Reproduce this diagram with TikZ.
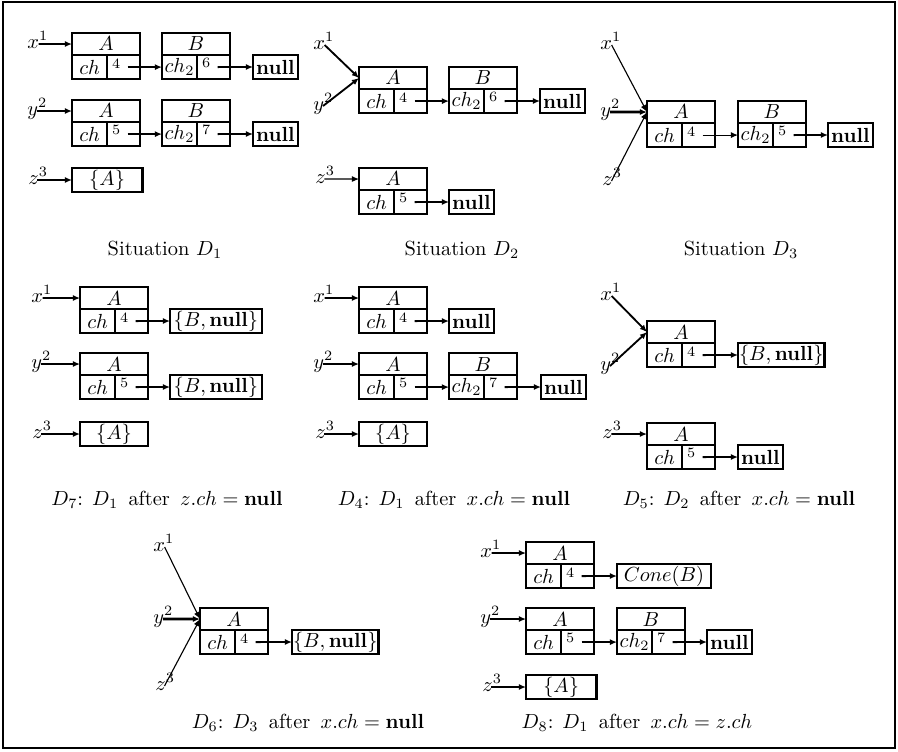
\documentclass[tikz,border=0pt]{standalone}
\usetikzlibrary{arrows.meta}
\newcommand\rec[5]{%
  \node[topcell, anchor=north west] (#1t) at (#2) {$#3$};
  \node[lcell] (#1l) at (#1t.south west) {$#4$};
  \node[rcell] (#1v) at (#1l.north east) {};
  \node[num] (#1n) at ([shift={(4.4pt,-4pt)}]#1v.north west) {#5};
}
\newcommand\gp{\hspace{1.7pt} }
\begin{document}
\begin{tikzpicture}[x=0.49pt,y=-0.49pt,
  box/.style={draw, line width=1.3pt, inner sep=0pt, outer sep=0pt},
  topcell/.style={box, minimum width=33.3pt, minimum height=10.8pt},
  lcell/.style={box, minimum width=17.2pt, minimum height=11.8pt, anchor=north west},
  rcell/.style={box, minimum width=16.1pt, minimum height=11.8pt, anchor=north west},
  nullb/.style={box, minimum width=22pt, minimum height=11.8pt, anchor=west},
  setb/.style={box, minimum height=11.8pt, anchor=west, inner sep=0.5pt},
  num/.style={font=\scriptsize, inner sep=0pt},
  ptr/.style={line width=0.9pt, -{Latex[length=3.5pt,width=3pt]}},
  thinptr/.style={line width=0.55pt, -{Latex[length=3.5pt,width=3pt]}},
  lbl/.style={inner sep=0pt, anchor=base west, yshift=-2.15pt},
  captext/.style={inner sep=0pt},
]
\useasboundingbox (0,0) rectangle (898,751);
\draw[line width=1.1pt] (3,2) rectangle (895,748);

% ---------- D1 ----------
\rec{D1x}{72,33}{A}{ch}{4}
\rec{D1xB}{162,33}{B}{ch_2}{6}
\node[nullb] (D1xN) at (253,67) {$\mathbf{null}$};
\rec{D1y}{72,100}{A}{ch}{5}
\rec{D1yB}{162,100}{B}{ch_2}{7}
\node[nullb] (D1yN) at (253,134) {$\mathbf{null}$};
\node[setb, minimum width=34.4pt] (D1zS) at (72,180) {$\{A\}$};
\node[lbl] (D1lx) at (27,44) {$x^1$};
\node[lbl] (D1ly) at (27,111) {$y^2$};
\node[lbl] (D1lz) at (28,180) {$z^3$};
\draw[ptr] ([shift={(5.7pt,2.15pt)}]D1lx.base west) -- (D1xt.west);
\draw[ptr] ([shift={(4.9pt,2.15pt)}]D1ly.base west) -- (D1yt.west);
\draw[ptr] ([shift={(4.65pt,2.15pt)}]D1lz.base west) -- (D1zS.west);
\draw[ptr] ([xshift=2pt]D1xv.center) -- (D1xBl.west);
\draw[ptr] ([xshift=2pt]D1xBv.center) -- (D1xN.west);
\draw[ptr] ([xshift=2pt]D1yv.center) -- (D1yBl.west);
\draw[ptr] ([xshift=2pt]D1yBv.center) -- (D1yN.west);
\node[captext] (C1) at (165,250) {Situation $D_1$};

% ---------- D2 ----------
\rec{D2}{359,67}{A}{ch}{4}
\rec{D2B}{449,67}{B}{ch_2}{6}
\node[nullb] (D2N) at (540,101) {$\mathbf{null}$};
\rec{D2z}{359,168}{A}{ch}{5}
\node[nullb] (D2zN) at (449,202) {$\mathbf{null}$};
\node[lbl] (D2lx) at (313,45) {$x^1$};
\node[lbl] (D2ly) at (313,106) {$y^2$};
\node[lbl] (D2lz) at (315,179) {$z^3$};
\draw[ptr] ([shift={(5.7pt,2.15pt)}]D2lx.base west) -- (D2t.west);
\draw[ptr] ([shift={(4.9pt,2.15pt)}]D2ly.base west) -- (D2t.west);
\draw[thinptr] ([shift={(4.65pt,2.15pt)}]D2lz.base west) -- (D2zt.west);
\draw[ptr] ([xshift=2pt]D2v.center) -- (D2Bl.west);
\draw[ptr] ([xshift=2pt]D2Bv.center) -- (D2N.west);
\draw[ptr] ([xshift=2pt]D2zv.center) -- (D2zN.west);
\node[captext] (C2) at (462,250) {Situation $D_2$};

% ---------- D3 ----------
\rec{D3}{647,101}{A}{ch}{4}
\rec{D3B}{738,101}{B}{ch_2}{5}
\node[nullb] (D3N) at (828,135) {$\mathbf{null}$};
\node[lbl] (D3lx) at (600,45) {$x^1$};
\node[lbl] (D3ly) at (600,112) {$y^2$};
\node[lbl] (D3lz) at (602,181) {$z^3$};
\draw[thinptr] ([shift={(5.7pt,2.15pt)}]D3lx.base west) -- (D3t.west);
\draw[ptr, line width=1.3pt] ([shift={(4.9pt,2.15pt)}]D3ly.base west) -- (D3t.west);
\draw[thinptr] ([shift={(4.65pt,2.15pt)}]D3lz.base west) -- (D3t.west);
\draw[thinptr] ([xshift=2pt]D3v.center) -- (D3Bl.west);
\draw[ptr] ([xshift=2pt]D3Bv.center) -- (D3N.west);
\node[captext] (C3) at (741,250) {Situation $D_3$};

% ---------- D7 ----------
\rec{D7x}{80,287}{A}{ch}{4}
\node[setb, minimum width=45pt] (D7xS) at (170,321) {$\{B,\mathbf{null}\}$};
\rec{D7y}{80,353}{A}{ch}{5}
\node[setb, minimum width=45pt] (D7yS) at (170,387) {$\{B,\mathbf{null}\}$};
\node[setb, minimum width=33.3pt] (D7zS) at (80,434) {$\{A\}$};
\node[lbl] (D7lx) at (31,298) {$x^1$};
\node[lbl] (D7ly) at (31,364) {$y^2$};
\node[lbl] (D7lz) at (32,434) {$z^3$};
\draw[ptr] ([shift={(5.7pt,2.15pt)}]D7lx.base west) -- (D7xt.west);
\draw[ptr] ([shift={(4.9pt,2.15pt)}]D7ly.base west) -- (D7yt.west);
\draw[ptr] ([shift={(4.65pt,2.15pt)}]D7lz.base west) -- (D7zS.west);
\draw[ptr] ([xshift=2pt]D7xv.center) -- (D7xS.west);
\draw[ptr] ([xshift=2pt]D7yv.center) -- (D7yS.west);
\node[captext] (C7) at (167,500) {$D_7$: $D_1$\gp after\gp $z.ch=\mathbf{null}$};

% ---------- D4 ----------
\rec{D4x}{359,287}{A}{ch}{4}
\node[nullb] (D4xN) at (449,321) {$\mathbf{null}$};
\rec{D4y}{359,353}{A}{ch}{5}
\rec{D4yB}{449,353}{B}{ch_2}{7}
\node[nullb] (D4yN) at (541,387) {$\mathbf{null}$};
\node[setb, minimum width=33.3pt] (D4zS) at (359,434) {$\{A\}$};
\node[lbl] (D4lx) at (313,298) {$x^1$};
\node[lbl] (D4ly) at (313,364) {$y^2$};
\node[lbl] (D4lz) at (315,434) {$z^3$};
\draw[ptr] ([shift={(5.7pt,2.15pt)}]D4lx.base west) -- (D4xt.west);
\draw[ptr] ([shift={(4.9pt,2.15pt)}]D4ly.base west) -- (D4yt.west);
\draw[ptr] ([shift={(4.65pt,2.15pt)}]D4lz.base west) -- (D4zS.west);
\draw[ptr] ([xshift=2pt]D4xv.center) -- (D4xN.west);
\draw[ptr] ([xshift=2pt]D4yv.center) -- (D4yBl.west);
\draw[ptr] ([xshift=2pt]D4yBv.center) -- (D4yN.west);
\node[captext] (C4) at (454,500) {$D_4$: $D_1$\gp after\gp $x.ch=\mathbf{null}$};

% ---------- D5 ----------
\rec{D5}{647,321}{A}{ch}{4}
\node[setb, minimum width=42pt] (D5S) at (738,355) {$\{B,\mathbf{null}\}$};
\rec{D5z}{647,423}{A}{ch}{5}
\node[nullb] (D5zN) at (738,457) {$\mathbf{null}$};
\node[lbl] (D5lx) at (600,296) {$x^1$};
\node[lbl] (D5ly) at (600,366) {$y^2$};
\node[lbl] (D5lz) at (602,434) {$z^3$};
\draw[ptr] ([shift={(5.7pt,2.15pt)}]D5lx.base west) -- (D5t.west);
\draw[ptr] ([shift={(4.9pt,2.15pt)}]D5ly.base west) -- (D5t.west);
\draw[ptr] ([shift={(4.65pt,2.15pt)}]D5lz.base west) -- (D5zt.west);
\draw[ptr] ([xshift=2pt]D5v.center) -- (D5S.west);
\draw[ptr] ([xshift=2pt]D5zv.center) -- (D5zN.west);
\node[captext] (C5) at (739,500) {$D_5$: $D_2$\gp after\gp $x.ch=\mathbf{null}$};

% ---------- D6 ----------
\rec{D6}{200,608}{A}{ch}{4}
\node[setb, minimum width=42pt] (D6S) at (292,642) {$\{B,\mathbf{null}\}$};
\node[lbl] (D6lx) at (153,547) {$x^1$};
\node[lbl] (D6ly) at (153,619) {$y^2$};
\node[lbl] (D6lz) at (155,686) {$z^3$};
\draw[thinptr] ([shift={(5.7pt,2.15pt)}]D6lx.base west) -- (D6t.west);
\draw[ptr, line width=1.3pt] ([shift={(4.9pt,2.15pt)}]D6ly.base west) -- (D6t.west);
\draw[thinptr] ([shift={(4.65pt,2.15pt)}]D6lz.base west) -- (D6t.west);
\draw[ptr] ([xshift=2pt]D6v.center) -- (D6S.west);
\node[captext] (C6) at (308,723) {$D_6$: $D_3$\gp after\gp $x.ch=\mathbf{null}$};

% ---------- D8 ----------
\rec{D8x}{526,542}{A}{ch}{4}
\node[setb, minimum width=46pt] (D8xS) at (617,576) {$Cone(B)$};
\rec{D8y}{526,608}{A}{ch}{5}
\rec{D8yB}{617,608}{B}{ch_2}{7}
\node[nullb] (D8yN) at (707,642) {$\mathbf{null}$};
\node[setb, minimum width=34.4pt] (D8zS) at (526,687) {$\{A\}$};
\node[lbl] (D8lx) at (480,553) {$x^1$};
\node[lbl] (D8ly) at (480,619) {$y^2$};
\node[lbl] (D8lz) at (482,687) {$z^3$};
\draw[ptr] ([shift={(5.7pt,2.15pt)}]D8lx.base west) -- (D8xt.west);
\draw[ptr] ([shift={(4.9pt,2.15pt)}]D8ly.base west) -- (D8yt.west);
\draw[ptr] ([shift={(4.65pt,2.15pt)}]D8lz.base west) -- (D8zS.west);
\draw[ptr] ([xshift=2pt]D8xv.center) -- (D8xS.west);
\draw[ptr] ([xshift=2pt]D8yv.center) -- (D8yBl.west);
\draw[ptr] ([xshift=2pt]D8yBv.center) -- (D8yN.west);
\node[captext] (C8) at (637,723) {$D_8$: $D_1$\gp after\gp $x.ch=z.ch$};
\end{tikzpicture}
\end{document}
